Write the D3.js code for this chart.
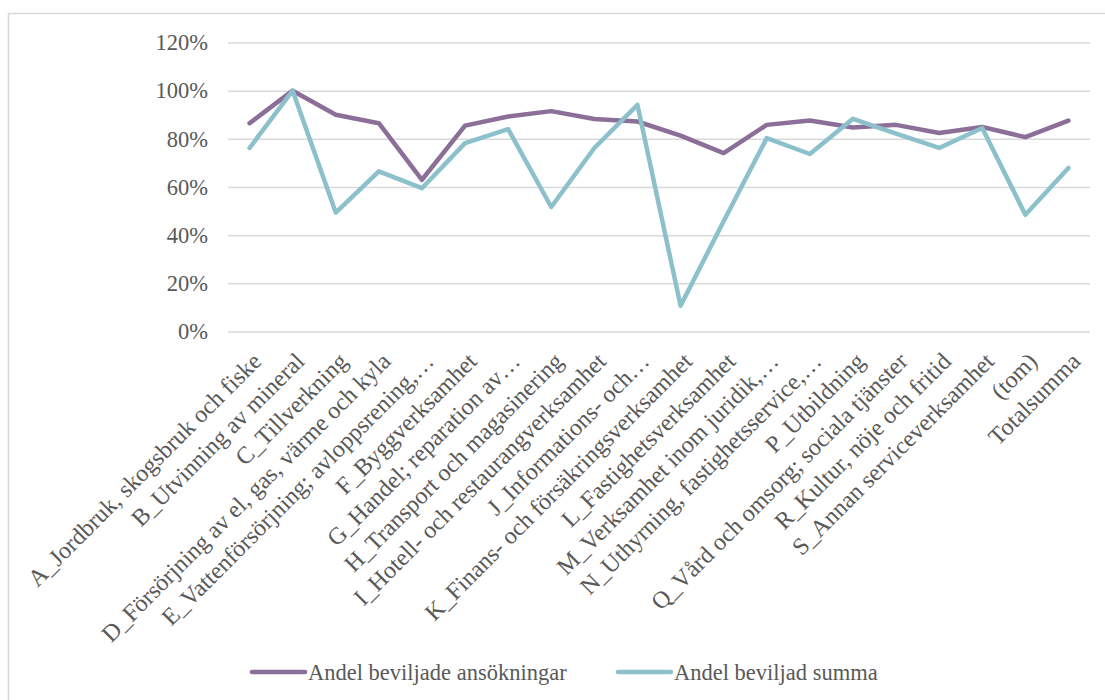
<!DOCTYPE html>
<html>
<head>
<meta charset="utf-8">
<script src="https://cdn.jsdelivr.net/npm/d3@7/dist/d3.min.js"></script>
<style>
  html, body { margin: 0; padding: 0; background: #fff; }
  svg { display: block; }
  text { font-family: "Liberation Serif", "DejaVu Serif", serif; fill: #595959; }
</style>
</head>
<body>
<svg id="chart" width="1105" height="700"></svg>
<script>
const categories = [
  "A_Jordbruk, skogsbruk och fiske",
  "B_Utvinning av mineral",
  "C_Tillverkning",
  "D_Försörjning av el, gas, värme och kyla",
  "E_Vattenförsörjning; avloppsrening,…",
  "F_Byggverksamhet",
  "G_Handel; reparation av…",
  "H_Transport och magasinering",
  "I_Hotell- och restaurangverksamhet",
  "J_Informations- och…",
  "K_Finans- och försäkringsverksamhet",
  "L_Fastighetsverksamhet",
  "M_Verksamhet inom juridik,…",
  "N_Uthyrning, fastighetsservice,…",
  "P_Utbildning",
  "Q_Vård och omsorg; sociala tjänster",
  "R_Kultur, nöje och fritid",
  "S_Annan serviceverksamhet",
  "(tom)",
  "Totalsumma"
];
const seriesNames = ["Andel beviljade ansökningar", "Andel beviljad summa"];
const andelAnsokningar = [86.5, 100, 90, 86.5, 63, 85.5, 89.3, 91.5, 88.2, 87.2, 81.3, 74.1, 85.8, 87.6, 84.7, 85.8, 82.4, 84.9, 80.7, 87.6];
const andelSumma = [76.2, 100, 49.4, 66.5, 59.5, 78.2, 84, 51.7, 76.2, 94.1, 10.7, 45.8, 80.3, 73.7, 88.3, 82.2, 76.2, 84.5, 48.5, 67.9];
const yTicks = [0, 20, 40, 60, 80, 100, 120];
const colors = ["#8b6f98", "#8cc0cb"];

const svg = d3.select("#chart");

// outer frame
svg.append("rect")
  .attr("x", 8.5).attr("y", 13.5).attr("width", 1120).attr("height", 720)
  .attr("fill", "none").attr("stroke", "#d9d9d9").attr("stroke-width", 1.5);

const plotLeft = 228, plotRight = 1090, plotTop = 42.5, plotBottom = 331.5;

const x = d3.scaleBand().domain(categories).range([plotLeft, plotRight]);
const y = d3.scaleLinear().domain([0, 120]).range([plotBottom, plotTop]);

// gridlines
const yAxis = d3.axisLeft(y).tickValues(yTicks).tickSize(-(plotRight - plotLeft)).tickFormat(d => d + "%");
const gy = svg.append("g").attr("transform", `translate(${plotLeft},0)`).call(yAxis);
gy.select(".domain").remove();
gy.selectAll(".tick line").attr("stroke", "#d9d9d9").attr("stroke-width", 1.5);
gy.selectAll(".tick text")
  .attr("x", -20)
  .attr("dy", "0.32em")
  .style("font-size", "22.5px")
  .style("font-family", "'Liberation Serif', serif")
  .attr("fill", "#595959");

// x axis labels
const xAxis = d3.axisBottom(x).tickSize(0);
const gx = svg.append("g").attr("transform", `translate(0,${plotBottom})`).call(xAxis);
gx.select(".domain").remove();
gx.selectAll(".tick text")
  .attr("text-anchor", "end")
  .attr("x", 0).attr("y", 0).attr("dy", "0.72em")
  .attr("transform", "translate(1,19) rotate(-45)")
  .style("font-size", "24px")
  .style("font-family", "'Liberation Serif', serif")
  .attr("fill", "#595959");

// lines
const xc = d => x(d) + x.bandwidth() / 2;
const line = d3.line().x((d, i) => xc(categories[i])).y(d => y(d));
[andelAnsokningar, andelSumma].forEach((vals, k) => {
  svg.append("path")
    .datum(vals)
    .attr("d", line)
    .attr("fill", "none")
    .attr("stroke", colors[k])
    .attr("stroke-width", 4.5)
    .attr("stroke-linejoin", "round")
    .attr("stroke-linecap", "round");
});

// legend
const legendX = [252, 618];
seriesNames.forEach((name, k) => {
  const g = svg.append("g").attr("transform", `translate(${legendX[k]},672)`);
  g.append("line").attr("x1", 0).attr("x2", 53).attr("y1", 0).attr("y2", 0)
    .attr("stroke", colors[k]).attr("stroke-width", 4.5).attr("stroke-linecap", "round");
  g.append("text").attr("x", 56).attr("y", 0).attr("dy", "0.35em")
    .style("font-size", "22.5px").text(name);
});
</script>
</body>
</html>
